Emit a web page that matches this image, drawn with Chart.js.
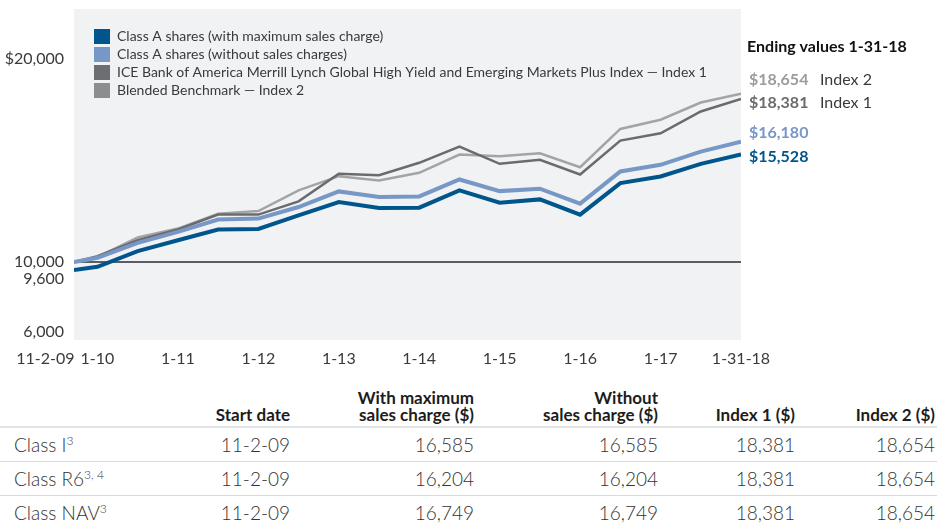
<!DOCTYPE html>
<html>
<head>
<meta charset="utf-8">
<script src="https://cdn.jsdelivr.net/npm/chart.js@4.4.1/dist/chart.umd.min.js"></script>
<style>
    body {
        margin: 0;
        width: 937px;
        height: 527px;
        overflow: hidden;
        background: #fff;
        font-family: Lato, "Liberation Sans", sans-serif;
        color: #3a3a3a;
    }
    #chartWrap {
        position: relative;
        width: 937px;
        height: 372px;
    }
    #perfTable {
        position: absolute;
        left: 0;
        top: 381px;
        width: 937px;
        border-collapse: collapse;
        table-layout: fixed;
    }
    #perfTable th {
        font-size: 17px;
        font-weight: bold;
        color: #1c1c1c;
        line-height: 17px;
        text-align: right;
        vertical-align: bottom;
        padding: 0 0 3px 0;
        border-bottom: 2px solid #e2e3e5;
        height: 42px;
    }
    #perfTable td {
        font-size: 19px;
        font-weight: 300;
        color: #333;
        text-align: right;
        padding: 0;
        height: 33px;
        border-bottom: 1px solid #d9dadc;
    }
    #perfTable tr:last-child td { border-bottom: none; }
    #perfTable td.name { text-align: left; padding-left: 14px; }
    #perfTable sup { font-size: 12px; vertical-align: 7px; line-height: 0; }
</style>
</head>
<body>
<div id="chartWrap"><canvas id="growthChart"></canvas></div>
<table id="perfTable"></table>
<script>
// half-year observation points, x = months from Jan 2010
const periods = ['11-2-09', '1-10', '7-10', '1-11', '7-11', '1-12', '7-12', '1-13', '7-13',
    '1-14', '7-14', '1-15', '7-15', '1-16', '7-16', '1-17', '7-17', '1-31-18'];
const monthOffsets = [-3.5, 0, 6, 12, 18, 24, 30, 36, 42, 48, 54, 60, 66, 72, 78, 84, 90, 96];

const classAMax = [9600, 9760, 10563, 11125, 11673, 11703, 12404, 13084, 12777, 12798,
    13683, 13054, 13222, 12440, 14056, 14399, 15049, 15528];
const classAWithout = [10000, 10220, 10987, 11550, 12184, 12235, 12829, 13632, 13340, 13376,
    14245, 13647, 13770, 13003, 14655, 14997, 15678, 16180];
const index1 = [10000, 10307, 11125, 11673, 12440, 12440, 13120, 14537, 14465, 15100,
    15933, 15049, 15253, 14501, 16240, 16614, 17739, 18381];
const index2 = [10000, 10256, 11263, 11724, 12491, 12624, 13683, 14414, 14194, 14588,
    15524, 15437, 15591, 14875, 16839, 17314, 18199, 18654];

const seriesNames = [
    'Class A shares (with maximum sales charge)',
    'Class A shares (without sales charges)',
    'ICE Bank of America Merrill Lynch Global High Yield and Emerging Markets Plus Index \u2014 Index 1',
    'Blended Benchmark \u2014 Index 2'
];

const xTickValues = [-3.5, 0, 12, 24, 36, 48, 60, 72, 84, 96];
const xTickLabels = ['11-2-09', '1-10', '1-11', '1-12', '1-13', '1-14', '1-15', '1-16', '1-17', '1-31-18'];
const yTickValues = [6000, 10000, 20000];
const yTickLabels = [['6,000', ''], ['', '10,000', '9,600'], ['$20,000', '']];

const endingTitle = 'Ending values 1-31-18';

// table below the chart
const tableHeaders = [['', ''], ['', 'Start date'], ['With maximum', 'sales charge ($)'],
    ['Without', 'sales charge ($)'], ['', 'Index 1 ($)'], ['', 'Index 2 ($)']];
const shareClasses = ['Class I', 'Class R6', 'Class NAV'];
const classNotes = ['3', '3, 4', '3'];
const startDates = ['11-2-09', '11-2-09', '11-2-09'];
const withMaxCharge = [16585, 16204, 16749];
const withoutCharge = [16585, 16204, 16749];
const index1Ending = [18381, 18381, 18381];
const index2Ending = [18654, 18654, 18654];

const fontFamily = 'Lato, "Liberation Sans", sans-serif';
const fmt = v => v.toLocaleString('en-US');

function toPoints(values) {
    return values.map((v, i) => ({x: monthOffsets[i], y: v}));
}

const plotBackground = {
    id: 'plotBackground',
    beforeDraw(chart) {
        const {ctx, chartArea} = chart;
        ctx.save();
        ctx.fillStyle = '#f1f2f4';
        ctx.fillRect(chartArea.left, chartArea.top, chartArea.width, chartArea.height);
        ctx.restore();
    }
};

// place the legend inside the plot, a little off the corner
const legendOffset = {
    id: 'legendOffset',
    afterLayout(chart) {
        if (!chart.legend) return;
        chart.legend.left = chart.chartArea.left + 17;
        chart.legend.top = chart.chartArea.top + 17;
    }
};

const endingValues = {
    id: 'endingValues',
    afterDraw(chart) {
        const {ctx, chartArea} = chart;
        const x = chartArea.right + 6;
        const rows = [
            {value: index2.at(-1), name: 'Index 2', color: '#9b9c9e', y: 80},
            {value: index1.at(-1), name: 'Index 1', color: '#6a6b6e', y: 103},
            {value: classAWithout.at(-1), name: '', color: '#7797c6', y: 133},
            {value: classAMax.at(-1), name: '', color: '#00558c', y: 157}
        ];
        ctx.save();
        ctx.textBaseline = 'middle';
        ctx.textAlign = 'left';
        ctx.font = 'bold 16px ' + fontFamily;
        ctx.fillStyle = '#111';
        ctx.fillText(endingTitle, x, 47);
        rows.forEach(r => {
            ctx.font = 'bold 16px ' + fontFamily;
            ctx.fillStyle = r.color;
            ctx.fillText('$' + fmt(r.value), x + 2, r.y);
            if (r.name) {
                ctx.font = '16px ' + fontFamily;
                ctx.fillStyle = '#3a3a3a';
                ctx.fillText(r.name, x + 73, r.y);
            }
        });
        ctx.restore();
    }
};

const ctx = document.getElementById('growthChart');

new Chart(ctx, {
    type: 'line',
    data: {
        datasets: [
            {
                label: seriesNames[0],
                data: toPoints(classAMax),
                borderColor: '#00558c',
                backgroundColor: '#00558c',
                borderWidth: 4
            },
            {
                label: seriesNames[1],
                data: toPoints(classAWithout),
                borderColor: '#7797c6',
                backgroundColor: '#7797c6',
                borderWidth: 4
            },
            {
                label: seriesNames[2],
                data: toPoints(index1),
                borderColor: '#6a6b6e',
                backgroundColor: '#6d6e71',
                borderWidth: 2.5
            },
            {
                label: seriesNames[3],
                data: toPoints(index2),
                borderColor: '#a3a4a6',
                backgroundColor: '#8c8d90',
                borderWidth: 2.5
            }
        ]
    },
    options: {
        responsive: true,
        maintainAspectRatio: false,
        animation: false,
        elements: {
            point: {radius: 0},
            line: {tension: 0, borderJoinStyle: 'miter'}
        },
        layout: {
            padding: {top: 9, right: 196, left: 0, bottom: 0}
        },
        scales: {
            x: {
                type: 'linear',
                min: -3.5,
                max: 96,
                afterBuildTicks: scale => {
                    scale.ticks = xTickValues.map(v => ({value: v}));
                },
                afterFit: scale => {
                    scale.height = 32;
                    scale.paddingLeft = 0;
                    scale.paddingRight = 0;
                },
                grid: {display: false, drawTicks: false},
                border: {display: false},
                ticks: {
                    autoSkip: false,
                    maxRotation: 0,
                    padding: 9,
                    color: '#3a3a3a',
                    font: {family: fontFamily, size: 16},
                    callback: (value, index) => index === 0
                        ? xTickLabels[0] + ' '.repeat(14)
                        : xTickLabels[index]
                }
            },
            y: {
                min: 6000,
                max: 23000,
                afterBuildTicks: scale => {
                    scale.ticks = yTickValues.map(v => ({value: v}));
                },
                afterFit: scale => {
                    scale.width = 74;
                    scale.paddingTop = 0;
                    scale.paddingBottom = 0;
                },
                grid: {
                    drawTicks: false,
                    lineWidth: 2,
                    color: c => c.tick && c.tick.value === 10000 ? '#5c5d60' : 'transparent'
                },
                border: {display: false},
                ticks: {
                    padding: 10,
                    color: '#3a3a3a',
                    font: {family: fontFamily, size: 16, lineHeight: 1.05},
                    callback: (value, index) => yTickLabels[index]
                }
            }
        },
        plugins: {
            legend: {
                position: 'chartArea',
                align: 'start',
                labels: {
                    boxWidth: 16,
                    boxHeight: 15,
                    padding: 3,
                    color: '#3a3a3a',
                    font: {family: fontFamily, size: 14},
                    generateLabels: chart => Chart.defaults.plugins.legend.labels.generateLabels(chart)
                        .map(item => ({...item, lineWidth: 0}))
                }
            },
            tooltip: {enabled: false}
        }
    },
    plugins: [plotBackground, legendOffset, endingValues]
});

// build the ending value table
const table = document.getElementById('perfTable');
const colWidths = [200, 90, 184, 184, 137, 142];
let html = '<colgroup>' + colWidths.map(w => '<col style="width:' + w + 'px">').join('') + '</colgroup>';
html += '<tr>' + tableHeaders.map((h, i) =>
    '<th' + (i === 5 ? ' style="padding-right:2px"' : '') + '>' + h.filter(Boolean).join('<br>') + '</th>').join('') + '</tr>';
shareClasses.forEach((name, i) => {
    html += '<tr>' +
        '<td class="name">' + name + '<sup>' + classNotes[i] + '</sup></td>' +
        '<td>' + startDates[i] + '</td>' +
        '<td>' + fmt(withMaxCharge[i]) + '</td>' +
        '<td>' + fmt(withoutCharge[i]) + '</td>' +
        '<td>' + fmt(index1Ending[i]) + '</td>' +
        '<td style="padding-right:2px">' + fmt(index2Ending[i]) + '</td>' +
        '</tr>';
});
table.innerHTML = html;
</script>
</body>
</html>
